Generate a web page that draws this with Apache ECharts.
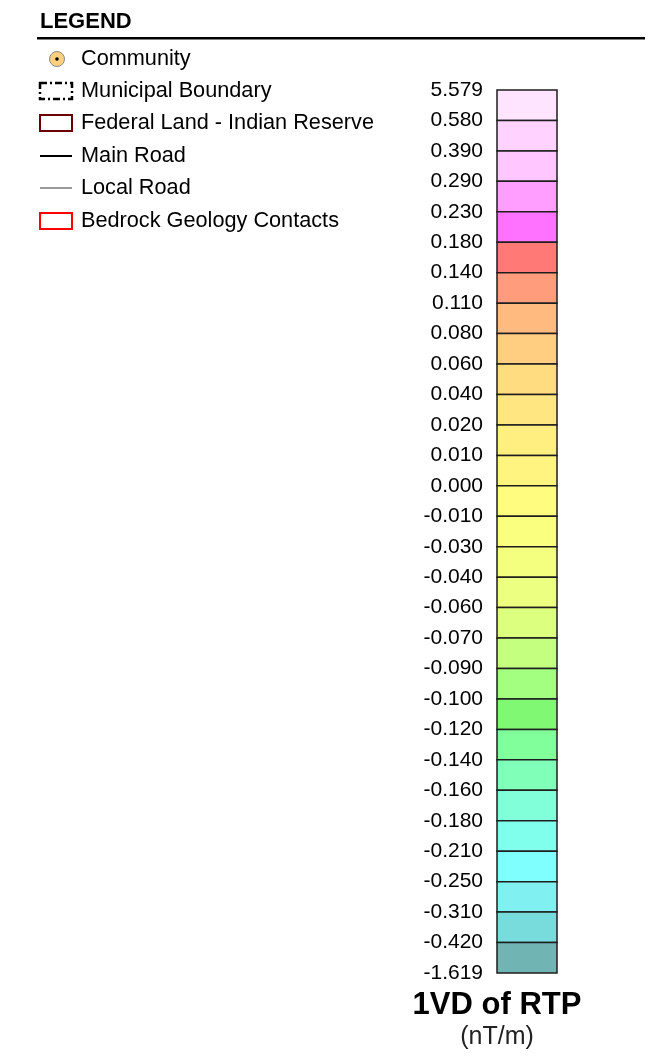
<!DOCTYPE html>
<html>
<head>
<meta charset="utf-8">
<script src="https://cdn.jsdelivr.net/npm/echarts@6/dist/echarts.min.js"></script>
<style>
html,body{margin:0;padding:0;background:#fff;}
#chart{width:655px;height:1057px;}
</style>
</head>
<body>
<div id="chart"></div>
<script>
// Class break labels (top to bottom)
const tickLabels = ['5.579','0.580','0.390','0.290','0.230','0.180','0.140','0.110','0.080','0.060','0.040','0.020','0.010','0.000','-0.010','-0.030','-0.040','-0.060','-0.070','-0.090','-0.100','-0.120','-0.140','-0.160','-0.180','-0.210','-0.250','-0.310','-0.420','-1.619'];
// Class colours (one per box, top to bottom)
const boxColors = ['#FFE4FF','#FFD2FF','#FFC6FF','#FF9EFF','#FF72FF','#FF7A76','#FF9C7C','#FFBA80','#FFCE80','#FFDC80','#FFE680','#FFEE80','#FFF480','#FFFC80','#FBFF80','#F4FF80','#ECFF80','#DCFF80','#C4FF80','#A2FF80','#80F874','#80FF9A','#80FFB8','#80FFD8','#80FFEC','#80FFFF','#80F0F0','#78DCDC','#70B4B4'];
// Legend entries
const legendLabels = ['Community','Municipal Boundary','Federal Land - Indian Reserve','Main Road','Local Road','Bedrock Geology Contacts'];
const legendTitle = 'LEGEND';
const barTitle = '1VD of RTP';
const barUnit = '(nT/m)';

const FONT = '"Liberation Sans", Arial, sans-serif';
const chart = echarts.init(document.getElementById('chart'), null, {renderer:'canvas'});

const rowY = [59, 91, 123, 156, 188, 221];
const graphics = [
  {type:'text', x:40, y:22, style:{text:legendTitle, font:'bold 22px ' + FONT, fill:'#000', textVerticalAlign:'middle', verticalAlign:'middle'}},
  {type:'rect', shape:{x:37, y:37, width:608, height:2.5}, style:{fill:'#000'}},
  // icons
  {type:'circle', shape:{cx:57, cy:rowY[0], r:7.5}, style:{fill:'#FFD080', stroke:'#8a8a8a', lineWidth:1}},
  {type:'circle', shape:{cx:57, cy:rowY[0], r:1.8}, style:{fill:'#000'}},
  {type:'rect', shape:{x:40, y:rowY[1]-8, width:32, height:16}, style:{fill:null, stroke:'#000', lineWidth:2.5, lineDash:[7,3,2,3]}},
  {type:'rect', shape:{x:40, y:rowY[2]-8, width:32, height:16}, style:{fill:null, stroke:'#6B0000', lineWidth:2}},
  {type:'line', shape:{x1:40, y1:rowY[3], x2:72, y2:rowY[3]}, style:{stroke:'#000', lineWidth:2}},
  {type:'line', shape:{x1:40, y1:rowY[4], x2:72, y2:rowY[4]}, style:{stroke:'#9a9a9a', lineWidth:2}},
  {type:'rect', shape:{x:40, y:rowY[5]-8, width:32, height:16}, style:{fill:null, stroke:'#FF0000', lineWidth:2}},
  {type:'text', x:497, y:1005, style:{text:barTitle, font:'bold 31px ' + FONT, fill:'#000', textAlign:'center', textVerticalAlign:'middle', align:'center', verticalAlign:'middle'}},
  {type:'text', x:497, y:1037, style:{text:barUnit, font:'25px ' + FONT, fill:'#222', textAlign:'center', textVerticalAlign:'middle', align:'center', verticalAlign:'middle'}}
];
legendLabels.forEach((t, i) => {
  graphics.push({type:'text', x:81, y:rowY[i], style:{text:t, font:'21.7px ' + FONT, fill:'#000', textVerticalAlign:'middle', verticalAlign:'middle'}});
});

chart.setOption({
  animation:false,
  backgroundColor:'#fff',
  grid:{left:497, top:90, width:60, height:883},
  xAxis:{type:'value', min:0, max:1, show:false},
  yAxis:{type:'value', inverse:true, min:0, max:tickLabels.length-1, interval:1,
    axisLine:{show:false}, axisTick:{show:false}, splitLine:{show:false},
    axisLabel:{margin:14, fontSize:21, fontFamily:FONT, color:'#000', padding:[4,0,0,0],
      formatter:(v)=>tickLabels[v] !== undefined ? tickLabels[v] : ''}},
  series:[{
    type:'custom',
    data: boxColors.map((c, i) => [i, i+1]),
    encode:{y:[0,1]},
    renderItem:(params, api) => {
      const a = api.value(0), b = api.value(1);
      const p0 = api.coord([0, a]);
      const p1 = api.coord([1, b]);
      return {type:'rect', shape:{x:p0[0], y:p0[1], width:p1[0]-p0[0], height:p1[1]-p0[1]},
        style:{fill:boxColors[params.dataIndex], stroke:'#1e1e1e', lineWidth:1.5}};
    }
  }],
  graphic: graphics
});
</script>
</body>
</html>
